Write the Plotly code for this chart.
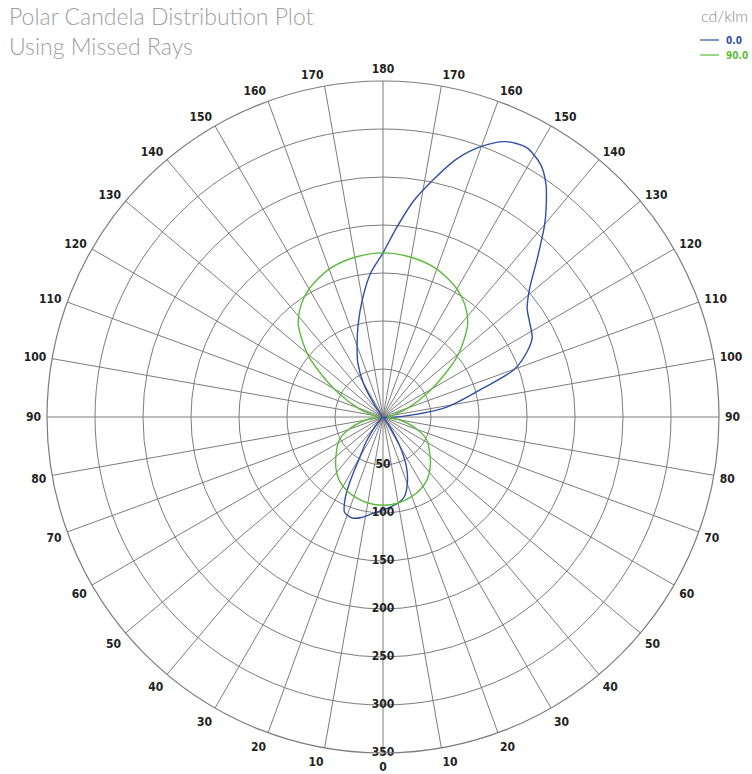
import plotly.graph_objects as go

# Blue series: C0 plane (theta measured from nadir, 0..360 around the plot)
c0_theta = [0, 5, 10, 15, 20, 25, 30, 35, 40, 50, 60, 70, 80, 88, 94, 99, 106, 110, 115, 118,
            123, 127, 131, 136, 140, 142, 145, 148, 152, 156, 160, 164, 168, 172, 176, 180,
            185, 190, 195, 200, 205, 210, 215, 220, 230, 250, 270, 290, 310, 318, 322, 326,
            330, 333, 335, 338, 343, 348, 354, 360]
c0_r = [97, 94, 91, 86, 74, 58, 35, 12, 3, 1, 1, 1, 2, 10, 31, 68, 108, 146, 167, 176,
        182, 188, 202, 232, 262, 276, 296, 310, 318, 314, 300, 280, 253, 227, 197, 171,
        150, 124, 100, 79, 62, 41, 16, 5, 2, 1, 1, 1, 2, 8, 17, 32,
        48, 76, 93, 107, 110, 107, 101, 97]

# Green series: C90 plane (symmetric, one half listed, mirrored for the other half)
c90_theta_half = [0, 10, 20, 27, 35, 43, 50, 62, 70, 80, 90, 100, 110, 118, 124, 129, 134,
                  138, 144, 150, 160, 170, 180]
c90_r_half = [92, 91, 88, 85, 80, 72, 64, 52, 38, 18, 5, 10, 28, 52, 75, 99, 118,
              132, 145, 154, 164, 169, 171]

angle_ticks = list(range(0, 360, 10))
angle_labels = [str(t if t <= 180 else 360 - t) for t in angle_ticks]
radial_ticks = [50, 100, 150, 200, 250, 300, 350]
radial_labels = [str(v) for v in radial_ticks]

series_names = ["0.0", "90.0"]
series_colors = ["#2E4FA3", "#5DBB3C"]

c90_theta = c90_theta_half + [360 - t for t in reversed(c90_theta_half[:-1])]
c90_r = c90_r_half + list(reversed(c90_r_half[:-1]))

narrow = "Liberation Sans Narrow, Arial Narrow, DejaVu Sans Condensed, sans-serif"
grid = "#7c7c7c"

fig = go.Figure()
fig.add_trace(go.Scatterpolar(
    theta=c0_theta, r=c0_r, mode="lines", line=dict(color=series_colors[0], width=1.4, shape="spline", smoothing=0.8),
    name=series_names[0], hoverinfo="skip", showlegend=False))
fig.add_trace(go.Scatterpolar(
    theta=c90_theta, r=c90_r, mode="lines", line=dict(color=series_colors[1], width=1.4, shape="spline", smoothing=0.8),
    name=series_names[1], hoverinfo="skip", showlegend=False))
fig.add_trace(go.Scatterpolar(
    theta=[0] * len(radial_ticks), r=radial_ticks, mode="text", text=radial_labels,
    textposition="middle center", textfont=dict(family=narrow, size=12, color="#222222", weight="bold"),
    showlegend=False, hoverinfo="skip"))

W, H = 752, 774
cx, cy, R = 383, 417, 336

# manual legend (line sample + coloured label), placed in paper coordinates
legend_rows_y = [40, 55]
shapes = []
annotations = [
    dict(x=7 / W, y=1.0, xref="paper", yref="paper", text="Polar Candela Distribution Plot<br>Using Missed Rays",
         showarrow=False, xanchor="left", yanchor="top", align="left",
         font=dict(family="Lato", size=23, color="#a0a0a0", weight=300)),
    dict(x=0.997, y=0.995, xref="paper", yref="paper", text="cd/klm", showarrow=False,
         xanchor="right", yanchor="top", font=dict(family="Lato", size=16, color="#8a8a8a", weight=300)),
]
for name, color, yy in zip(series_names, series_colors, legend_rows_y):
    yp = 1 - yy / H
    shapes.append(dict(type="line", xref="paper", yref="paper", x0=700 / W, x1=719 / W, y0=yp, y1=yp,
                       line=dict(color=color, width=1.2)))
    annotations.append(dict(x=724 / W, y=yp, xref="paper", yref="paper", text=name, showarrow=False,
                            xanchor="left", yanchor="middle",
                            font=dict(family=narrow, size=10, color=color, weight="bold")))

fig.update_layout(
    width=W, height=H,
    margin=dict(l=0, r=0, t=0, b=0),
    paper_bgcolor="white",
    showlegend=False,
    shapes=shapes,
    annotations=annotations,
    polar=dict(
        domain=dict(x=[(cx - R) / W, (cx + R) / W], y=[(H - cy - R) / H, (H - cy + R) / H]),
        bgcolor="white",
        angularaxis=dict(
            rotation=-90, direction="counterclockwise",
            tickmode="array", tickvals=angle_ticks, ticktext=angle_labels,
            showgrid=True, gridcolor=grid, gridwidth=1.2,
            showline=True, linecolor=grid, linewidth=1.2,
            ticks="outside", ticklen=3, tickcolor="rgba(0,0,0,0)",
            tickfont=dict(family=narrow, size=12, color="#222222", weight="bold"),
        ),
        radialaxis=dict(
            range=[0, 350], tickmode="array", tickvals=radial_ticks,
            showticklabels=False, ticks="", showline=False,
            showgrid=True, gridcolor=grid, gridwidth=1.2,
        ),
    ),
)
fig.write_html("out.html", config={"displayModeBar": False},
               post_script="document.body.style.margin='0';document.body.style.overflow='hidden';")
